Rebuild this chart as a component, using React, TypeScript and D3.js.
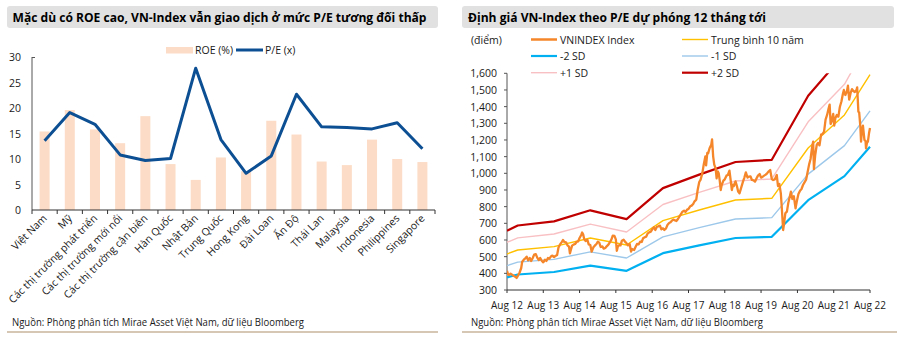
import React from "react";
import * as d3 from "d3";

// ---------- Left chart data ----------
const categories = [
  "Việt Nam", "Mỹ", "Các thị trường phát triển", "Các thị trường mới nổi",
  "Các thị trường cận biên", "Hàn Quốc", "Nhật Bản", "Trung Quốc", "Hong Kong",
  "Đài Loan", "Ấn Độ", "Thái Lan", "Malaysia", "Indonesia", "Philippines", "Singapore",
];
const roeValues = [15.4, 19.6, 15.8, 13.1, 18.4, 9.0, 5.9, 10.3, 7.6, 17.5, 14.8, 9.5, 8.8, 13.8, 10.0, 9.4];
const peValues = [13.6, 19.1, 16.8, 10.8, 9.7, 10.1, 27.8, 13.8, 7.2, 10.6, 22.7, 16.3, 16.2, 15.9, 17.1, 12.0];
const leftTicks = [0, 5, 10, 15, 20, 25, 30];

// ---------- Right chart data ----------
const bandDates = [
  "2012-08-15", "2012-12-01", "2013-12-01", "2014-12-01", "2015-12-01", "2016-12-01",
  "2017-12-01", "2018-12-01", "2019-12-01", "2020-12-01", "2021-12-01", "2022-08-15",
];
const mean10y = [516, 540, 560, 612, 570, 716, 780, 840, 850, 1152, 1350, 1592];
const plus2SD = [656, 687, 712, 778, 725, 911, 992, 1068, 1081, 1465, 1717, 2025];
const plus1SD = [586, 613, 636, 695, 648, 813, 886, 954, 966, 1309, 1534, 1808];
const minus1SD = [446, 467, 484, 529, 492, 619, 674, 726, 734, 995, 1166, 1375];
const minus2SD = [376, 393, 408, 446, 415, 521, 568, 612, 619, 839, 983, 1159];

const vnDates = [
  "2012-08-15","2012-08-25","2012-09-05","2012-09-20","2012-10-05","2012-10-20","2012-11-05","2012-11-20","2012-12-05","2012-12-20",
  "2013-01-05","2013-01-15","2013-01-31","2013-02-15","2013-03-01","2013-03-15","2013-04-01","2013-04-15","2013-05-01","2013-05-15",
  "2013-06-01","2013-06-15","2013-07-01","2013-07-15","2013-08-01","2013-08-15","2013-09-01","2013-09-15","2013-10-01","2013-10-15",
  "2013-11-01","2013-11-15","2013-12-01","2013-12-15","2014-01-01","2014-01-15","2014-02-01","2014-02-15","2014-03-01","2014-03-15",
  "2014-04-01","2014-04-15","2014-05-01","2014-05-10","2014-05-20","2014-06-01","2014-06-15","2014-07-01","2014-07-15","2014-08-01",
  "2014-08-15","2014-09-01","2014-09-10","2014-09-20","2014-10-01","2014-10-15","2014-11-01","2014-11-15","2014-12-01","2014-12-15",
  "2015-01-01","2015-01-15","2015-02-01","2015-02-15","2015-03-01","2015-03-15","2015-04-01","2015-04-15","2015-05-01","2015-05-15",
  "2015-06-01","2015-06-15","2015-07-01","2015-07-15","2015-08-01","2015-08-15","2015-08-25","2015-09-05","2015-09-20","2015-10-01",
  "2015-10-15","2015-11-01","2015-11-15","2015-12-01","2015-12-15","2016-01-01","2016-01-15","2016-01-25","2016-02-15","2016-03-01",
  "2016-03-15","2016-04-01","2016-04-15","2016-05-01","2016-05-15","2016-06-01","2016-06-15","2016-07-01","2016-07-15","2016-08-01",
  "2016-08-15","2016-09-01","2016-09-15","2016-10-01","2016-10-15","2016-11-01","2016-11-15","2016-12-01","2016-12-15","2017-01-01",
  "2017-01-15","2017-02-01","2017-02-15","2017-03-01","2017-03-15","2017-04-01","2017-04-15","2017-05-01","2017-05-15","2017-06-01",
  "2017-06-15","2017-07-01","2017-07-15","2017-08-01","2017-08-15","2017-09-01","2017-09-15","2017-10-01","2017-10-15","2017-11-01",
  "2017-11-15","2017-12-01","2017-12-15","2018-01-01","2018-01-15","2018-02-01","2018-02-08","2018-02-20","2018-03-01","2018-03-15",
  "2018-04-01","2018-04-09","2018-04-20","2018-05-01","2018-05-15","2018-05-25","2018-06-05","2018-06-15","2018-06-25","2018-07-05",
  "2018-07-15","2018-08-01","2018-08-15","2018-09-01","2018-09-15","2018-10-01","2018-10-15","2018-10-25","2018-11-05","2018-11-15",
  "2018-12-01","2018-12-15","2018-12-28","2019-01-10","2019-01-25","2019-02-15","2019-03-01","2019-03-15","2019-04-01","2019-04-15",
  "2019-05-01","2019-05-15","2019-06-01","2019-06-15","2019-07-01","2019-07-15","2019-08-01","2019-08-15","2019-09-01","2019-09-15",
  "2019-10-01","2019-10-15","2019-11-01","2019-11-15","2019-12-01","2019-12-15","2020-01-01","2020-01-20","2020-02-01","2020-02-15",
  "2020-03-01","2020-03-12","2020-03-24","2020-04-01","2020-04-15","2020-05-01","2020-05-15","2020-06-01","2020-06-10","2020-06-25",
  "2020-07-10","2020-07-27","2020-08-10","2020-08-25","2020-09-10","2020-09-25","2020-10-10","2020-10-25","2020-11-10","2020-11-25",
  "2020-12-10","2020-12-25","2021-01-10","2021-01-20","2021-01-28","2021-02-10","2021-02-25","2021-03-10","2021-03-25","2021-04-10",
  "2021-04-25","2021-05-10","2021-05-25","2021-06-10","2021-06-25","2021-07-05","2021-07-15","2021-07-25","2021-08-10","2021-08-20",
  "2021-09-01","2021-09-15","2021-10-01","2021-10-15","2021-11-01","2021-11-15","2021-11-25","2021-12-10","2021-12-25","2022-01-05",
  "2022-01-18","2022-02-01","2022-02-15","2022-03-01","2022-03-15","2022-04-01","2022-04-08","2022-04-20","2022-04-28","2022-05-10",
  "2022-05-17","2022-05-25","2022-06-05","2022-06-20","2022-07-01","2022-07-06","2022-07-15","2022-07-25","2022-08-05","2022-08-15",
];
const vnValues = [
  415, 395, 390, 398, 392, 385, 380, 372, 388, 405,
  432, 470, 482, 490, 500, 478, 492, 474, 492, 512,
  515, 494, 480, 492, 474, 466, 482, 474, 492, 488,
  502, 506, 498, 504, 510, 555, 575, 586, 600, 588,
  586, 568, 560, 520, 542, 566, 572, 576, 588, 592,
  612, 630, 645, 634, 604, 594, 602, 574, 570, 530,
  556, 566, 576, 590, 584, 558, 562, 548, 552, 562,
  572, 586, 602, 626, 624, 604, 535, 562, 570, 568,
  596, 602, 590, 580, 568, 576, 530, 546, 540, 560,
  576, 574, 590, 588, 610, 616, 620, 640, 646, 650,
  664, 676, 660, 680, 682, 686, 664, 670, 660, 670,
  690, 702, 706, 716, 722, 718, 714, 726, 740, 756,
  770, 776, 768, 782, 786, 802, 806, 816, 832, 842,
  900, 948, 962, 1000, 1052, 1102, 1048, 1122, 1120, 1150,
  1172, 1204, 1102, 1052, 1030, 970, 1012, 1000, 958, 900,
  930, 956, 964, 986, 990, 1016, 950, 900, 932, 924,
  952, 924, 890, 880, 910, 952, 976, 1006, 974, 980,
  982, 960, 958, 950, 970, 986, 996, 974, 980, 986,
  992, 1000, 1012, 1020, 966, 960, 964, 990, 924, 936,
  880, 780, 660, 692, 760, 770, 822, 866, 890, 846,
  862, 790, 836, 876, 896, 906, 930, 946, 962, 1006,
  1052, 1086, 1160, 1190, 1025, 1110, 1170, 1182, 1168, 1232,
  1236, 1250, 1322, 1352, 1390, 1412, 1296, 1312, 1356, 1286,
  1332, 1350, 1340, 1396, 1432, 1476, 1500, 1470, 1490, 1526,
  1442, 1482, 1505, 1494, 1488, 1500, 1516, 1370, 1366, 1280,
  1190, 1250, 1286, 1200, 1196, 1150, 1182, 1190, 1240, 1272,
];
const rightTickLabels = ["Aug 12", "Aug 13", "Aug 14", "Aug 15", "Aug 16", "Aug 17", "Aug 18", "Aug 19", "Aug 20", "Aug 21", "Aug 22"];
const rightTickDates = [
  "2012-08-15", "2013-08-15", "2014-08-15", "2015-08-15", "2016-08-15", "2017-08-15",
  "2018-08-15", "2019-08-15", "2020-08-15", "2021-08-15", "2022-08-15",
];
const rightYTicks = [300, 400, 500, 600, 700, 800, 900, 1000, 1100, 1200, 1300, 1400, 1500, 1600];

const FONT = "'Open Sans', 'Noto Sans', sans-serif";
const TEXT = "#1a1a1a";
const SOURCE = "Nguồn: Phòng phân tích Mirae Asset Việt Nam, dữ liệu Bloomberg";

export default function App() {
  // ---------- Left chart scales ----------
  const xL = d3.scaleBand<string>().domain(categories).range([32, 435]).padding(0);
  const yL = d3.scaleLinear().domain([0, 30]).range([210, 57]);
  const peLine = d3
    .line<number>()
    .x((_, i) => (xL(categories[i]) as number) + xL.bandwidth() / 2)
    .y((d) => yL(d));
  const barW = 10;

  // ---------- Right chart scales ----------
  const parse = d3.timeParse("%Y-%m-%d");
  const xR = d3
    .scaleTime()
    .domain([parse("2012-08-15") as Date, parse("2022-08-15") as Date])
    .range([507, 870]);
  const yR = d3.scaleLinear().domain([300, 1600]).range([290, 73.3]);
  const bandLine = d3
    .line<number>()
    .x((_, i) => xR(parse(bandDates[i]) as Date))
    .y((d) => yR(d));
  const vnLine = d3
    .line<number>()
    .x((_, i) => xR(parse(vnDates[i]) as Date))
    .y((d) => yR(d));
  const fmt = d3.format(",");

  const bands = [
    { name: "+2 SD", values: plus2SD, color: "#c00000", w: 2.2 },
    { name: "+1 SD", values: plus1SD, color: "#f9c0c3", w: 1.4 },
    { name: "Trung bình 10 năm", values: mean10y, color: "#ffc000", w: 1.4 },
    { name: "-1 SD", values: minus1SD, color: "#9dc8ea", w: 1.4 },
    { name: "-2 SD", values: minus2SD, color: "#00b0f0", w: 2.2 },
  ];

  return (
    <svg width={905} height={339} style={{ display: "block", position: "absolute", left: 0, top: 0 }} fontFamily={FONT}>
      <rect x={0} y={0} width={905} height={339} fill="#ffffff" />
      {/* ---------- Left chart ---------- */}
      <rect x={7} y={6} width={431} height={22} rx={3} fill="#e1e1e1" />
      <text x={12.5} y={22} fontSize={12.5} fontWeight={700} fill="#000" textLength={414} lengthAdjust="spacingAndGlyphs">
        Mặc dù có ROE cao, VN-Index vẫn giao dịch ở mức P/E tương đối thấp
      </text>

      {/* legend */}
      <rect x={166} y={47} width={27} height={6.5} fill="#fcdcc6" />
      <text x={195} y={54} fontSize={10.5} fill={TEXT}>ROE (%)</text>
      <line x1={236} x2={263} y1={50} y2={50} stroke="#0d4f93" strokeWidth={3} />
      <text x={265} y={54} fontSize={10.5} fill={TEXT}>P/E (x)</text>

      {/* y labels */}
      {leftTicks.map((t) => (
        <text key={t} x={21} y={yL(t) + 4} fontSize={10.5} textAnchor="end" fill={TEXT}>
          {t}
        </text>
      ))}
      <line x1={32} x2={32} y1={57} y2={210} stroke="#555" strokeWidth={1} />
      <line x1={32} x2={35} y1={57.5} y2={57.5} stroke="#555" strokeWidth={1} />

      {/* bars */}
      {roeValues.map((v, i) => (
        <rect
          key={i}
          x={(xL(categories[i]) as number) + xL.bandwidth() / 2 - barW / 2}
          y={yL(v)}
          width={barW}
          height={yL(0) - yL(v)}
          fill="#fcdcc6"
        />
      ))}
      {/* x axis */}
      <line x1={32} x2={435} y1={210} y2={210} stroke="#333" strokeWidth={1} />
      {categories.concat([""]).map((c, i) => {
        const x = i < categories.length ? (xL(c) as number) : 435;
        return <line key={i} x1={x} x2={x} y1={210} y2={214} stroke="#333" strokeWidth={1} />;
      })}
      <path d={peLine(peValues) || ""} fill="none" stroke="#0d4f93" strokeWidth={3} strokeLinejoin="round" />
      {categories.map((c, i) => {
        const cx = (xL(c) as number) + xL.bandwidth() / 2 + 3;
        const cy = 219;
        return (
          <text
            key={c}
            x={cx}
            y={cy}
            fontSize={10.5}
            textAnchor="end"
            fill={TEXT}
            transform={`rotate(-45 ${cx} ${cy})`}
          >
            {c}
          </text>
        );
      })}
      <text x={12} y={326} fontSize={10} fill={TEXT} textLength={292} lengthAdjust="spacingAndGlyphs">
        {SOURCE}
      </text>
      <line x1={7} x2={438} y1={332} y2={332} stroke="#c9b49c" strokeWidth={1.5} />

      {/* ---------- Right chart ---------- */}
      <rect x={462} y={6} width={432} height={22} rx={3} fill="#e1e1e1" />
      <text x={468} y={22} fontSize={12.5} fontWeight={700} fill="#000" textLength={298} lengthAdjust="spacingAndGlyphs">
        Định giá VN-Index theo P/E dự phóng 12 tháng tới
      </text>
      <text x={471} y={44} fontSize={10.5} fill={TEXT}>(điểm)</text>

      {/* legend */}
      {[
        { name: "VNINDEX Index", color: "#f5862a", w: 2.5, x: 531, y: 39.5 },
        { name: "Trung bình 10 năm", color: "#ffc000", w: 1.4, x: 682, y: 39.5 },
        { name: "-2 SD", color: "#00b0f0", w: 2.2, x: 531, y: 56 },
        { name: "-1 SD", color: "#9dc8ea", w: 1.4, x: 682, y: 56 },
        { name: "+1 SD", color: "#f9c0c3", w: 1.4, x: 531, y: 72.7 },
        { name: "+2 SD", color: "#c00000", w: 2.2, x: 682, y: 72.7 },
      ].map((l) => (
        <g key={l.name}>
          <line x1={l.x} x2={l.x + 26} y1={l.y} y2={l.y} stroke={l.color} strokeWidth={l.w} />
          <text x={l.x + 29} y={l.y + 4} fontSize={10.5} fill={TEXT}>{l.name}</text>
        </g>
      ))}

      {/* y axis */}
      {rightYTicks.map((t) => (
        <g key={t}>
          <text x={497} y={yR(t) + 4} fontSize={10.5} textAnchor="end" fill={TEXT}>
            {fmt(t)}
          </text>
          <line x1={504} x2={507} y1={yR(t)} y2={yR(t)} stroke="#555" strokeWidth={1} />
        </g>
      ))}
      <line x1={507} x2={507} y1={yR(1600)} y2={290} stroke="#555" strokeWidth={1} />

      <defs>
        <clipPath id="plotR">
          <rect x={507} y={yR(1600)} width={365} height={290 - yR(1600)} />
        </clipPath>
      </defs>
      <g clipPath="url(#plotR)">
        {bands.map((b) => (
          <path key={b.name} d={bandLine(b.values) || ""} fill="none" stroke={b.color} strokeWidth={b.w} strokeLinejoin="round" />
        ))}
        <path d={vnLine(vnValues) || ""} fill="none" stroke="#f5862a" strokeWidth={2.3} strokeLinejoin="round" />
      </g>

      {/* x axis */}
      <line x1={507} x2={870} y1={290} y2={290} stroke="#333" strokeWidth={1} />
      {rightTickDates.map((d, i) => {
        const x = xR(parse(d) as Date);
        return (
          <g key={d}>
            <line x1={x} x2={x} y1={290} y2={293} stroke="#333" strokeWidth={1} />
            <text x={x} y={309} fontSize={10} textAnchor="middle" fill={TEXT}>
              {rightTickLabels[i]}
            </text>
          </g>
        );
      })}
      <text x={471} y={326} fontSize={10} fill={TEXT} textLength={292} lengthAdjust="spacingAndGlyphs">
        {SOURCE}
      </text>
      <line x1={462} x2={897} y1={332} y2={332} stroke="#c9b49c" strokeWidth={1.5} />
    </svg>
  );
}
